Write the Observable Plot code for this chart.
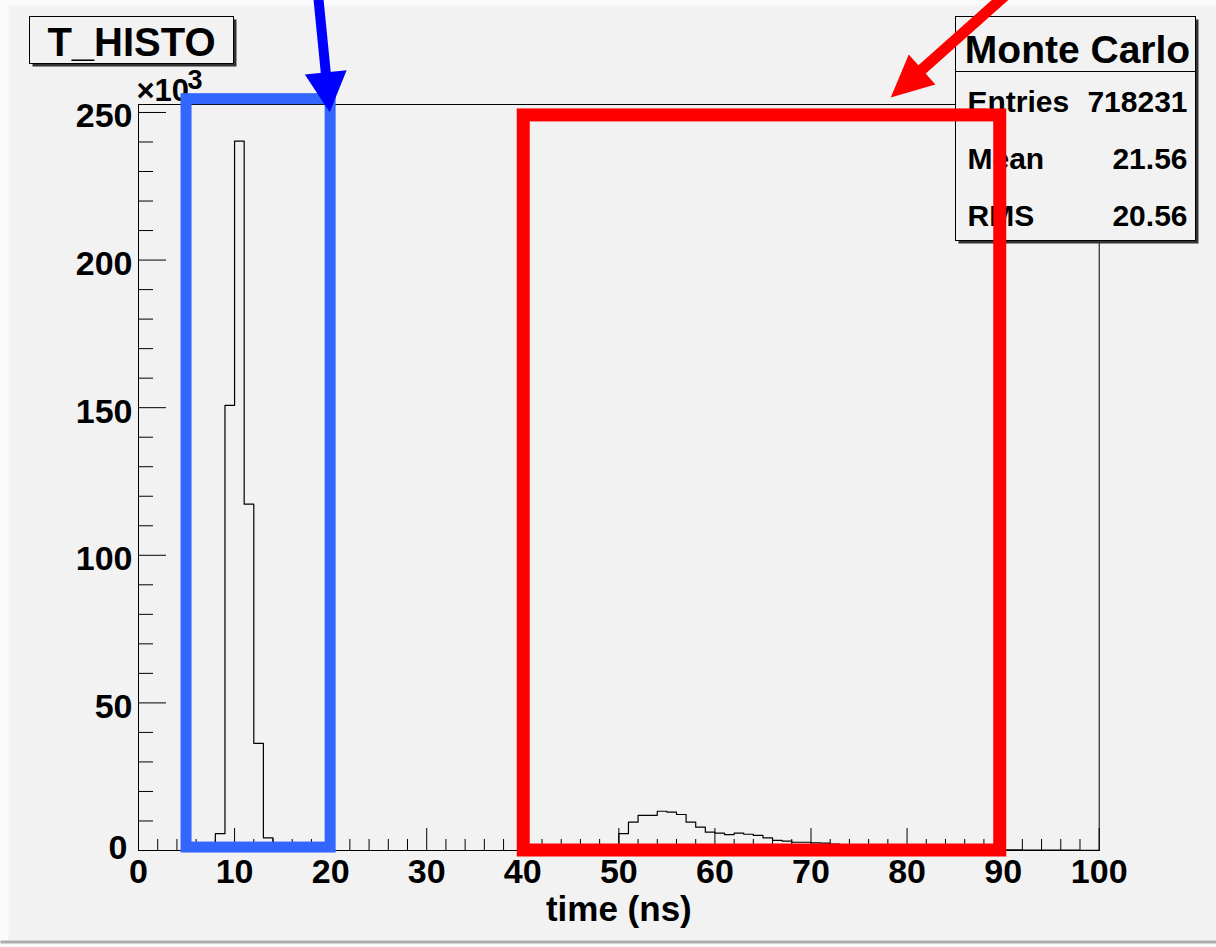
<!DOCTYPE html>
<html>
<head>
<meta charset="utf-8">
<script src="https://cdn.jsdelivr.net/npm/d3@7"></script>
<script src="https://cdn.jsdelivr.net/npm/@observablehq/plot@0.6"></script>
<style>
  html, body { margin: 0; padding: 0; background: #fbfbfb; }
  #chart svg { display: block; }
</style>
</head>
<body>
<div id="chart"></div>
<script>
// ---------------- data ----------------
const histTitle = "T_HISTO";
const xLabel = "time (ns)";
const yExponentBase = "×10";
const yExponent = "3";
const binStart = 0;
const binWidth = 1;
// counts per 1 ns bin, in thousands (×10³)
const counts = [
  0, 0, 0, 0, 0, 0, 0, 0, 5.7, 150.8,
  240.3, 117.3, 36.3, 4.3, 0, 0, 0, 0, 0, 0,
  0, 0, 0, 0, 0, 0, 0, 0, 0, 0,
  0, 0, 0, 0, 0, 0, 0, 0, 0, 0,
  0, 0, 0, 0, 0, 0, 0, 0, 0, 0,
  5.7, 9.6, 11.9, 11.9, 13.3, 13.0, 12.2, 9.6, 7.9, 6.2,
  5.9, 5.4, 5.9, 5.5, 5.1, 4.3, 3.4, 3.2, 2.8, 2.8,
  2.6, 2.5, 2.2, 2.0, 1.8, 1.6, 1.5, 1.3, 1.2, 1.0,
  0.9, 0.8, 0.7, 0.6, 0.5, 0.45, 0.4, 0.35, 0.3, 0.25,
  0.2, 0.2, 0.15, 0.15, 0.1, 0.1, 0.1, 0.1, 0.05, 0.05
];
const xMajorTicks = [0, 10, 20, 30, 40, 50, 60, 70, 80, 90, 100];
const xMinorTicks = [2, 4, 6, 8, 12, 14, 16, 18, 22, 24, 26, 28, 32, 34, 36, 38, 42, 44, 46, 48,
  52, 54, 56, 58, 62, 64, 66, 68, 72, 74, 76, 78, 82, 84, 86, 88, 92, 94, 96, 98];
const yMajorTicks = [0, 50, 100, 150, 200, 250];
const yMinorTicks = [10, 20, 30, 40, 60, 70, 80, 90, 110, 120, 130, 140, 160, 170, 180, 190, 210, 220, 230, 240];

const statsTitle = "Monte Carlo";
const statLabels = ["Entries", "Mean", "RMS"];
const statValues = ["718231", "21.56", "20.56"];

// annotation boxes and arrows (data units: ns, ×10³ counts)
const blueBox = [{x1: 5, x2: 20, y1: 1, y2: 254.5}];
const redBox = [{x1: 40.1, x2: 89.7, y1: 0, y2: 249}];
const blueArrow = [{x1: 18.7, y1: 289.6, x2: 19.9, y2: 250.1}];
const redArrow = [{x1: 90.2, y1: 289.6, x2: 78.3, y2: 255.1}];

// ---------------- layout ----------------
const W = 1216, H = 947;
const mL = 138, mR = 117.3, mT = 104, mB = 97;
const xDomain = [0, 100], yDomain = [0, 252.7];
const FW = W - mL - mR, FH = H - mT - mB;
const font = "'Liberation Sans', Arial, Helvetica, sans-serif";
const pad = "#f2f2f2";

const box = (x1, y1, x2, y2, o) => Plot.frame({
  insetLeft: x1 - mL, insetTop: y1 - mT, insetRight: (W - mR) - x2, insetBottom: (H - mB) - y2, ...o
});

// histogram outline
const histo = [{x: binStart, y: 0}];
counts.forEach((c, i) => histo.push({x: binStart + i * binWidth, y: c}));
const xEnd = binStart + counts.length * binWidth;
histo.push({x: xEnd, y: counts[counts.length - 1]}, {x: xEnd, y: 0});

// filled arrow heads, oriented along each arrow through the plot's linear scales
const kx = FW / (xDomain[1] - xDomain[0]);
const ky = FH / (yDomain[1] - yDomain[0]);
function headSymbol(a, L, w) {
  const ang = Math.atan2((a.x2 - a.x1) * kx, (a.y2 - a.y1) * ky);
  const c = Math.cos(ang), s = Math.sin(ang);
  const pts = [[0, 0], [-w / 2, L], [w / 2, L]].map(([x, y]) => [x * c - y * s, x * s + y * c]);
  return {draw(ctx) { ctx.moveTo(pts[0][0], pts[0][1]); ctx.lineTo(pts[1][0], pts[1][1]); ctx.lineTo(pts[2][0], pts[2][1]); ctx.closePath(); }};
}

const txt = {fontFamily: font, fontWeight: "bold", fill: "#000"};
const yLabelTicks = yMajorTicks.filter(d => d !== 0);
const yZeroTick = yMajorTicks.filter(d => d === 0);

const chart = Plot.plot({
  width: W, height: H,
  marginLeft: mL, marginRight: mR, marginTop: mT, marginBottom: mB,
  style: {background: "#fbfbfb", fontFamily: font, color: "#000", overflow: "visible"},
  x: {domain: xDomain},
  y: {domain: yDomain},
  marks: [
    // pad
    box(8, 5, 1216, 940, {fill: pad, stroke: "none"}),
    box(0, 940, 1216, 943, {fill: "#adadad", stroke: "none"}),
    // frame and ticks
    Plot.frame({stroke: "#000", strokeWidth: 1}),
    Plot.tickX(xMinorTicks, {x: d => d, insetTop: FH - 11, stroke: "#000", strokeWidth: 1}),
    Plot.tickX(xMajorTicks, {x: d => d, insetTop: FH - 22, stroke: "#000", strokeWidth: 1}),
    Plot.tickY(yMinorTicks, {y: d => d, insetRight: FW - 15, stroke: "#000", strokeWidth: 1}),
    Plot.tickY(yMajorTicks, {y: d => d, insetRight: FW - 28, stroke: "#000", strokeWidth: 1}),
    // histogram
    Plot.line(histo, {x: "x", y: "y", curve: "step-after", stroke: "#000", strokeWidth: 1.2}),
    // axes labels
    Plot.axisX({ticks: xMajorTicks, tickSize: 0, tickPadding: 8, fontSize: 34, fontWeight: "bold", label: null, tickFormat: d => String(d)}),
    Plot.axisY({ticks: yLabelTicks, tickSize: 0, tickPadding: 6, dy: 4, fontSize: 34, fontWeight: "bold", label: null, tickFormat: d => String(d)}),
    Plot.axisY({ticks: yZeroTick, tickSize: 0, tickPadding: 11, dy: -2, fontSize: 34, fontWeight: "bold", label: null, tickFormat: d => String(d)}),
    Plot.text([xLabel], {frameAnchor: "bottom", dy: 70, lineAnchor: "bottom", fontSize: 35, ...txt}),
    Plot.text([yExponentBase], {frameAnchor: "top-left", dx: -2, dy: -4, lineAnchor: "bottom", textAnchor: "start", fontSize: 31, ...txt}),
    Plot.text([yExponent], {frameAnchor: "top-left", dx: 49, dy: -16, lineAnchor: "bottom", textAnchor: "start", fontSize: 27, ...txt}),
    // title box
    box(32, 19, 236, 66, {fill: "#333", stroke: "none"}),
    box(29, 16, 233, 63, {fill: pad, stroke: "#000", strokeWidth: 1}),
    Plot.text([histTitle], {frameAnchor: "top-left", dx: 131 - mL, dy: 55 - mT, lineAnchor: "bottom", textAnchor: "middle", fontSize: 40, ...txt}),
    // stats box
    box(958, 19, 1198, 243, {fill: "#333", stroke: "none"}),
    box(955, 16, 1195, 240, {fill: pad, stroke: "#000", strokeWidth: 1}),
    box(955, 71, 1195, 240, {fill: "none", stroke: "#000", strokeWidth: 1}),
    Plot.text([statsTitle], {frameAnchor: "top-right", dx: 1077 - (W - mR), dy: 62 - mT, lineAnchor: "bottom", textAnchor: "middle", fontSize: 39, ...txt}),
    ...statLabels.map((s, i) => Plot.text([s], {frameAnchor: "top-right", dx: 967 - (W - mR), dy: 111.7 + i * 56.65 - mT, lineAnchor: "bottom", textAnchor: "start", fontSize: 30, ...txt})),
    ...statValues.map((s, i) => Plot.text([s], {frameAnchor: "top-right", dx: 1187 - (W - mR), dy: 111.7 + i * 56.65 - mT, lineAnchor: "bottom", textAnchor: "end", fontSize: 30, ...txt})),
    // highlight boxes
    Plot.rect(blueBox, {x1: "x1", x2: "x2", y1: "y1", y2: "y2", fill: "none", stroke: "#3366ff", strokeWidth: 11}),
    Plot.rect(redBox, {x1: "x1", x2: "x2", y1: "y1", y2: "y2", fill: "none", stroke: "#ff0000", strokeWidth: 13}),
    // arrows
    Plot.arrow(blueArrow, {x1: "x1", y1: "y1", x2: "x2", y2: "y2", stroke: "#0000ff", strokeWidth: 10, headLength: 0, insetEnd: 30}),
    Plot.dot(blueArrow, {x: "x2", y: "y2", symbol: headSymbol(blueArrow[0], 40, 42), fill: "#0000ff", stroke: "none", r: 10}),
    Plot.arrow(redArrow, {x1: "x1", y1: "y1", x2: "x2", y2: "y2", stroke: "#ff0000", strokeWidth: 11, headLength: 0, insetEnd: 30}),
    Plot.dot(redArrow, {x: "x2", y: "y2", symbol: headSymbol(redArrow[0], 42, 40), fill: "#ff0000", stroke: "none", r: 10})
  ]
});
document.getElementById("chart").appendChild(chart);
</script>
</body>
</html>
